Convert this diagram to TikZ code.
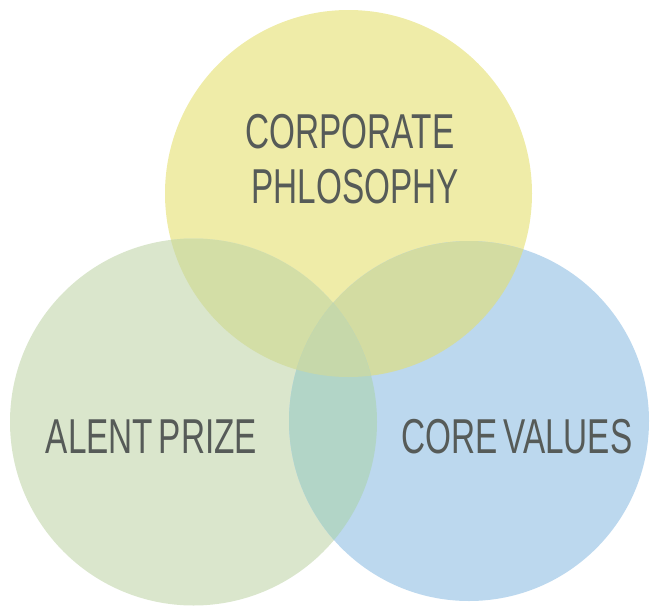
\documentclass[tikz,border=0pt]{standalone}
\usepackage{fontspec}
\usepackage{xcolor}
\usetikzlibrary{calc}
\newfontfamily\condfont[FakeStretch=0.68,WordSpace=0.6]{Liberation Sans}

\definecolor{philoyellow}{HTML}{EFECA8}
\definecolor{talentgreen}{HTML}{DAE6CC}
\definecolor{valueblue}{HTML}{BCD8EE}
\definecolor{yellowgreen}{HTML}{D3DEA6}
\definecolor{yellowblue}{HTML}{D3DCA2}
\definecolor{greenblue}{HTML}{B2D5C7}
\definecolor{allthree}{HTML}{C6D8AA}
\definecolor{labelgray}{HTML}{565B58}

\tikzset{
  vlabel/.style={anchor=base, inner sep=0pt, text=labelgray,
    font=\condfont\fontsize{49}{55}\selectfont}
}

\begin{document}
\begin{tikzpicture}[x=1pt,y=-1pt]

        \useasboundingbox (0,0) rectangle (653,608);

        % Centres
        \coordinate (P) at (348.5,193.5);
        \coordinate (T) at (193.5,422);
        \coordinate (V) at (469,421);

        % Circles
        \fill[philoyellow] (P) circle (183.5);
        \fill[talentgreen] (T) circle (183.5);
        \fill[valueblue] (V) circle (180);

        % Overlaps
        \begin{scope}
          \clip (P) circle (183.5);
          \fill[yellowgreen] (T) circle (183.5);
          \fill[yellowblue] (V) circle (180);
        \end{scope}
        \begin{scope}
          \clip (T) circle (183.5);
          \fill[greenblue] (V) circle (180);
          \clip (V) circle (180);
          \fill[allthree] (P) circle (183.5);
        \end{scope}

        % Labels
        \node[vlabel] (corp) at (350,148) {CORPORATE};
        \node[vlabel] (philo) at (355,203) {PHLOSOPHY};
        \node[vlabel] (talent) at (151.5,453) {ALENT PRIZE};
        \node[vlabel] (values) at (517,453) {CORE VALUES};

\end{tikzpicture}
\end{document}
